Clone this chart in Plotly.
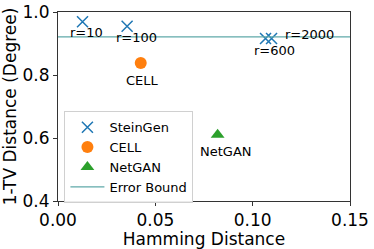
import plotly.graph_objects as go

# Data
stein_labels = ["r=10", "r=100", "r=600", "r=2000"]
stein_x = [0.0126, 0.0355, 0.1066, 0.1097]
stein_y = [0.969, 0.955, 0.916, 0.916]
cell_x = [0.0425]
cell_y = [0.838]
netgan_x = [0.082]
netgan_y = [0.610]
error_bound = 0.921
x_ticks = [0.0, 0.05, 0.10, 0.15]
x_ticklabels = ["0.00", "0.05", "0.10", "0.15"]
y_ticks = [0.4, 0.6, 0.8, 1.0]
y_ticklabels = ["0.4", "0.6", "0.8", "1.0"]

FONT = "DejaVu Sans"
BLUE, ORANGE, GREEN, TEAL = "#1f77b4", "#ff7f0e", "#2ca02c", "#5fa9a9"

# label offsets in pixels (style, not data)
stein_offsets = [(4, -11, "center"), (9, -11, "center"), (9, -12, "center"), (11, 4, "left")]

fig = go.Figure()
fig.add_trace(go.Scatter(x=stein_x, y=stein_y, mode="markers", name="SteinGen",
                         marker=dict(symbol="x-thin", size=11, color=BLUE,
                                     line=dict(width=1.5, color=BLUE))))
fig.add_trace(go.Scatter(x=cell_x, y=cell_y, mode="markers", name="CELL",
                         marker=dict(symbol="circle", size=12, color=ORANGE)))
fig.add_trace(go.Scatter(x=netgan_x, y=netgan_y, mode="markers", name="NetGAN",
                         marker=dict(symbol="triangle-up", size=12, color=GREEN)))
fig.add_trace(go.Scatter(x=[-0.01, 0.16], y=[error_bound, error_bound], mode="lines",
                         name="Error Bound", line=dict(color=TEAL, width=1.3)))

for lab, x, y, (dx, dy, anc) in zip(stein_labels, stein_x, stein_y, stein_offsets):
    fig.add_annotation(x=x, y=y, text=lab, showarrow=False, xshift=dx, yshift=dy,
                       xanchor=anc, font=dict(size=13, color="black", family=FONT))
fig.add_annotation(x=cell_x[0], y=cell_y[0], text="CELL", showarrow=False, xshift=2, yshift=-17,
                   font=dict(size=13, color="black", family=FONT))
fig.add_annotation(x=netgan_x[0], y=netgan_y[0], text="NetGAN", showarrow=False, xshift=8, yshift=-17,
                   font=dict(size=13, color="black", family=FONT))

axis_common = dict(showline=True, linecolor="#333333", linewidth=1, mirror=True,
                   ticks="outside", ticklen=4, tickcolor="#333333", showgrid=False,
                   zeroline=False, tickfont=dict(size=17, family=FONT, color="black"))
fig.update_xaxes(range=[0, 0.15], tickvals=x_ticks, ticktext=x_ticklabels,
                 title=dict(text="Hamming Distance", font=dict(size=17, family=FONT, color="black"), standoff=2),
                 **axis_common)
fig.update_yaxes(range=[0.4, 1.0], tickvals=y_ticks, ticktext=y_ticklabels,
                 title=dict(text="1-TV Distance (Degree)", font=dict(size=17, family=FONT, color="black"), standoff=2),
                 **axis_common)

fig.update_layout(
    width=374, height=249,
    margin=dict(l=58, r=24, t=12, b=48, autoexpand=False),
    plot_bgcolor="white", paper_bgcolor="white",
    font=dict(family=FONT, color="black"),
    legend=dict(x=0.022, y=0.475, xanchor="left", yanchor="top",
                bgcolor="rgba(255,255,255,0.9)", bordercolor="#d0d0d0", borderwidth=1,
                font=dict(size=13, family=FONT, color="black"),
                itemwidth=34, tracegroupgap=0),
    showlegend=True,
)

fig.write_html("out.html", config={"displayModeBar": False},
               post_script="document.body.style.margin='0';")
